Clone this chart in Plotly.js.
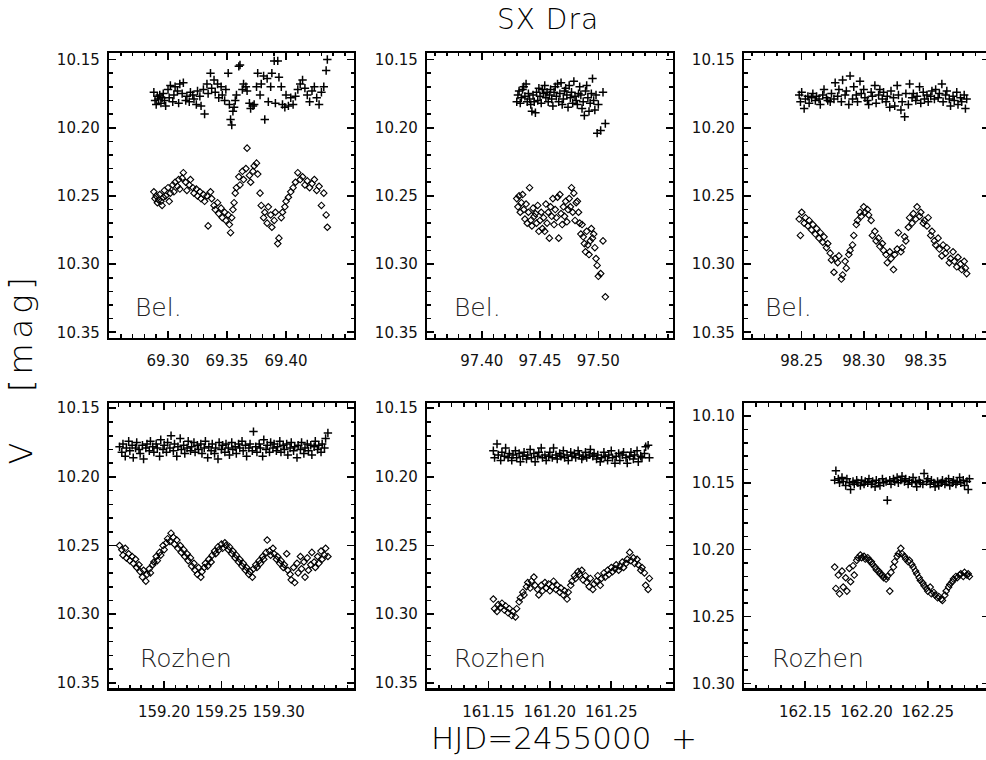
<!DOCTYPE html>
<html>
<head>
<meta charset="utf-8">
<script src="https://cdn.plot.ly/plotly-3.0.1.min.js"></script>
<style>
html,body{margin:0;padding:0;overflow:hidden;background:#fff;}
#chart{width:1000px;height:760px;}
.annotation[data-index="8"] text{letter-spacing:5px;}
.annotation[data-index="6"] text{letter-spacing:1px;}
</style>
</head>
<body>
<div id="chart"></div>
<script>
// ---------- Panel 1 : Belogradchik, HJD 2455069 ----------
const p1x = [69.288,69.289,69.290,69.291,69.292,69.293,69.294,69.295,69.296,69.297,
69.298,69.300,69.301,69.302,69.304,69.305,69.306,69.308,69.309,69.310,
69.312,69.313,69.315,69.316,69.318,69.319,69.321,69.322,69.324,69.325,
69.327,69.328,69.330,69.331,69.333,69.334,69.336,69.337,69.339,69.340,
69.342,69.343,69.345,69.346,69.348,69.349,69.351,69.352,69.353,69.354,
69.355,69.356,69.357,69.358,69.360,69.361,69.363,69.364,69.366,69.367,
69.369,69.370,69.372,69.373,69.375,69.376,69.378,69.379,69.381,69.382,
69.384,69.385,69.387,69.388,69.390,69.391,69.393,69.394,69.396,69.397,
69.399,69.400,69.402,69.404,69.406,69.408,69.410,69.412,69.414,69.416,
69.418,69.420,69.422,69.424,69.426,69.428,69.430,69.432,69.434,69.435];
const p1comp = [10.174,10.180,10.183,10.177,10.179,10.176,10.182,10.178,10.175,10.180,
10.184,10.172,10.178,10.169,10.181,10.176,10.170,10.173,10.182,10.168,
10.175,10.167,10.180,10.177,10.181,10.174,10.176,10.179,10.183,10.173,
10.177,10.184,10.172,10.190,10.168,10.175,10.160,10.171,10.165,10.174,
10.168,10.178,10.170,10.176,10.180,10.172,10.160,10.183,10.194,10.198,
10.188,10.185,10.180,10.176,10.155,10.154,10.172,10.168,10.170,10.173,
10.182,10.186,10.184,10.183,10.170,10.160,10.176,10.168,10.162,10.194,
10.164,10.181,10.170,10.160,10.151,10.182,10.151,10.163,10.170,10.183,
10.185,10.176,10.184,10.178,10.183,10.177,10.172,10.168,10.165,10.171,
10.176,10.181,10.173,10.170,10.178,10.183,10.174,10.170,10.158,10.150];
const p1var = [10.247,10.252,10.250,10.255,10.253,10.249,10.254,10.257,10.251,10.246,
10.250,10.244,10.254,10.248,10.242,10.247,10.240,10.243,10.238,10.245,
10.237,10.233,10.240,10.246,10.242,10.238,10.244,10.248,10.245,10.250,
10.247,10.252,10.249,10.254,10.250,10.272,10.247,10.252,10.257,10.260,
10.255,10.263,10.259,10.266,10.262,10.268,10.264,10.271,10.277,10.266,
10.260,10.255,10.248,10.244,10.236,10.242,10.232,10.238,10.230,10.215,
10.235,10.240,10.232,10.228,10.226,10.234,10.248,10.257,10.266,10.262,
10.270,10.258,10.264,10.273,10.268,10.262,10.285,10.281,10.266,10.262,
10.258,10.254,10.251,10.247,10.244,10.240,10.233,10.238,10.236,10.242,
10.239,10.244,10.241,10.238,10.246,10.243,10.257,10.248,10.264,10.273];

// ---------- Panel 2 : Belogradchik, HJD 2455097 ----------
const p2x = [97.430,97.431,97.432,97.433,97.434,97.435,97.436,97.437,97.438,97.439,
97.440,97.441,97.442,97.443,97.444,97.445,97.446,97.447,97.448,97.449,
97.450,97.451,97.452,97.453,97.454,97.455,97.456,97.457,97.458,97.459,
97.460,97.461,97.462,97.463,97.464,97.465,97.466,97.467,97.468,97.469,
97.470,97.471,97.472,97.473,97.474,97.475,97.476,97.477,97.478,97.479,
97.480,97.481,97.482,97.483,97.484,97.485,97.486,97.487,97.488,97.489,
97.490,97.491,97.492,97.493,97.494,97.495,97.496,97.497,97.498,97.499,
97.500,97.502,97.504,97.506];
const p2comp = [10.181,10.176,10.173,10.182,10.178,10.172,10.170,10.177,10.168,10.181,
10.175,10.179,10.183,10.188,10.176,10.181,10.189,10.174,10.180,10.171,
10.177,10.182,10.172,10.175,10.169,10.178,10.174,10.181,10.176,10.172,
10.179,10.184,10.174,10.170,10.177,10.168,10.181,10.175,10.167,10.183,
10.179,10.173,10.171,10.176,10.185,10.169,10.178,10.174,10.182,10.166,
10.177,10.180,10.183,10.175,10.170,10.176,10.186,10.181,10.191,10.173,
10.169,10.178,10.188,10.182,10.175,10.164,10.180,10.187,10.176,10.204,
10.183,10.202,10.174,10.197];
const p2var = [10.252,10.258,10.250,10.262,10.255,10.249,10.260,10.267,10.256,10.270,
10.262,10.244,10.268,10.272,10.259,10.265,10.263,10.270,10.257,10.276,
10.268,10.262,10.274,10.266,10.276,10.256,10.270,10.262,10.281,10.258,
10.265,10.252,10.271,10.260,10.266,10.251,10.281,10.249,10.263,10.271,
10.258,10.265,10.254,10.269,10.260,10.252,10.258,10.244,10.262,10.248,
10.268,10.255,10.254,10.262,10.270,10.278,10.271,10.280,10.285,10.291,
10.276,10.286,10.293,10.283,10.274,10.281,10.278,10.288,10.296,10.301,
10.309,10.307,10.283,10.324];

// ---------- Panel 3 : Belogradchik, HJD 2455098 ----------
const p3x = [98.248,98.249,98.250,98.252,98.253,98.255,98.256,98.258,98.259,98.261,
98.262,98.264,98.265,98.267,98.268,98.270,98.271,98.273,98.274,98.276,
98.277,98.279,98.280,98.282,98.283,98.285,98.286,98.288,98.289,98.291,
98.292,98.294,98.295,98.297,98.298,98.300,98.301,98.303,98.304,98.306,
98.307,98.309,98.310,98.312,98.313,98.315,98.316,98.318,98.319,98.321,
98.322,98.324,98.325,98.327,98.328,98.330,98.331,98.333,98.334,98.336,
98.337,98.339,98.340,98.342,98.343,98.345,98.346,98.348,98.349,98.351,
98.352,98.354,98.355,98.357,98.358,98.360,98.361,98.363,98.364,98.366,
98.367,98.369,98.370,98.372,98.373,98.375,98.376,98.378,98.379,98.381,
98.382,98.383];
const p3comp = [10.176,10.181,10.174,10.186,10.179,10.177,10.182,10.178,10.175,10.180,
10.177,10.179,10.183,10.176,10.172,10.178,10.180,10.181,10.175,10.179,
10.167,10.177,10.172,10.181,10.165,10.176,10.173,10.183,10.162,10.179,
10.170,10.176,10.181,10.166,10.175,10.172,10.178,10.180,10.183,10.174,
10.177,10.169,10.182,10.176,10.172,10.179,10.174,10.181,10.177,10.185,
10.173,10.178,10.184,10.169,10.176,10.187,10.181,10.192,10.175,10.183,
10.168,10.178,10.175,10.180,10.177,10.170,10.182,10.174,10.179,10.176,
10.181,10.177,10.173,10.179,10.172,10.178,10.175,10.168,10.181,10.176,
10.173,10.179,10.184,10.177,10.180,10.174,10.183,10.178,10.181,10.176,
10.186,10.179];
const p3var = [10.267,10.279,10.262,10.270,10.266,10.272,10.268,10.275,10.271,10.278,
10.274,10.281,10.277,10.284,10.280,10.288,10.285,10.292,10.297,10.306,
10.296,10.299,10.294,10.311,10.308,10.298,10.303,10.293,10.290,10.286,
10.279,10.271,10.268,10.262,10.265,10.258,10.262,10.260,10.264,10.268,
10.279,10.276,10.283,10.281,10.287,10.285,10.290,10.293,10.299,10.291,
10.296,10.304,10.293,10.289,10.277,10.291,10.288,10.280,10.283,10.273,
10.266,10.270,10.263,10.267,10.258,10.265,10.262,10.270,10.268,10.272,
10.266,10.279,10.276,10.283,10.286,10.281,10.289,10.294,10.286,10.292,
10.288,10.299,10.296,10.291,10.298,10.302,10.295,10.300,10.304,10.298,
10.303,10.307];

// ---------- Panel 4 : Rozhen, HJD 2455159 ----------
const p4x = [159.161,159.163,159.164,159.166,159.167,159.169,159.170,159.172,159.173,159.175,
159.176,159.178,159.179,159.181,159.182,159.184,159.185,159.187,159.188,159.190,
159.191,159.193,159.194,159.196,159.197,159.199,159.200,159.202,159.203,159.205,
159.206,159.208,159.209,159.211,159.212,159.214,159.215,159.217,159.218,159.220,
159.221,159.223,159.224,159.226,159.227,159.229,159.230,159.232,159.233,159.235,
159.236,159.238,159.239,159.241,159.242,159.244,159.245,159.247,159.248,159.250,
159.251,159.253,159.254,159.256,159.257,159.259,159.260,159.262,159.263,159.265,
159.266,159.268,159.269,159.271,159.272,159.274,159.275,159.277,159.278,159.280,
159.281,159.283,159.284,159.286,159.287,159.289,159.290,159.292,159.293,159.295,
159.296,159.298,159.299,159.301,159.302,159.304,159.305,159.307,159.308,159.310,
159.311,159.313,159.314,159.316,159.317,159.319,159.320,159.322,159.323,159.325,
159.326,159.328,159.329,159.331,159.332,159.334,159.335,159.337,159.338,159.340,
159.341,159.343];
const p4comp = [10.178,10.182,10.176,10.185,10.179,10.174,10.181,10.177,10.186,10.179,
10.175,10.180,10.183,10.177,10.187,10.179,10.176,10.181,10.174,10.178,
10.182,10.176,10.179,10.185,10.173,10.180,10.177,10.182,10.175,10.179,
10.170,10.181,10.176,10.185,10.178,10.172,10.180,10.177,10.183,10.179,
10.174,10.181,10.178,10.175,10.182,10.177,10.180,10.176,10.183,10.179,
10.174,10.186,10.178,10.181,10.176,10.183,10.179,10.187,10.175,10.180,
10.177,10.182,10.176,10.179,10.184,10.175,10.180,10.178,10.183,10.176,
10.179,10.174,10.181,10.177,10.185,10.179,10.176,10.181,10.167,10.178,
10.182,10.176,10.179,10.185,10.173,10.180,10.177,10.182,10.175,10.179,
10.176,10.181,10.178,10.174,10.182,10.177,10.180,10.176,10.184,10.179,
10.175,10.181,10.178,10.186,10.177,10.180,10.175,10.183,10.179,10.176,
10.181,10.177,10.184,10.178,10.174,10.180,10.177,10.182,10.176,10.179,
10.172,10.168];
const p4var = [10.250,10.253,10.257,10.252,10.259,10.256,10.261,10.258,10.263,10.260,
10.266,10.264,10.269,10.273,10.268,10.276,10.271,10.267,10.270,10.264,
10.262,10.258,10.261,10.255,10.257,10.250,10.253,10.248,10.245,10.247,
10.241,10.244,10.249,10.246,10.252,10.250,10.255,10.253,10.258,10.256,
10.261,10.259,10.265,10.263,10.268,10.271,10.266,10.273,10.269,10.266,
10.263,10.265,10.260,10.262,10.257,10.254,10.256,10.251,10.253,10.249,
10.252,10.248,10.250,10.253,10.251,10.256,10.254,10.259,10.257,10.262,
10.260,10.265,10.263,10.268,10.266,10.271,10.269,10.273,10.267,10.264,
10.266,10.261,10.263,10.258,10.260,10.255,10.246,10.254,10.257,10.252,
10.256,10.260,10.258,10.263,10.261,10.266,10.264,10.256,10.268,10.271,
10.275,10.266,10.277,10.263,10.270,10.258,10.267,10.262,10.273,10.259,
10.268,10.264,10.255,10.262,10.266,10.258,10.263,10.254,10.260,10.257,
10.252,10.258];

// ---------- Panel 5 : Rozhen, HJD 2455161 ----------
const p5x = [161.154,161.155,161.157,161.158,161.160,161.161,161.163,161.164,161.166,161.167,
161.169,161.170,161.172,161.173,161.175,161.176,161.178,161.179,161.181,161.182,
161.184,161.185,161.187,161.188,161.190,161.191,161.193,161.194,161.196,161.197,
161.199,161.200,161.202,161.203,161.205,161.206,161.208,161.209,161.211,161.212,
161.214,161.215,161.217,161.218,161.220,161.221,161.223,161.224,161.226,161.227,
161.229,161.230,161.232,161.233,161.235,161.236,161.238,161.239,161.241,161.242,
161.244,161.245,161.247,161.248,161.250,161.251,161.253,161.254,161.256,161.257,
161.259,161.260,161.262,161.263,161.265,161.266,161.268,161.269,161.271,161.272,
161.274,161.275,161.277,161.278,161.280,161.281];
const p5comp = [10.181,10.186,10.176,10.184,10.188,10.182,10.185,10.179,10.186,10.183,
10.188,10.184,10.181,10.186,10.183,10.189,10.185,10.182,10.187,10.184,
10.180,10.186,10.183,10.189,10.185,10.182,10.179,10.186,10.184,10.188,
10.185,10.182,10.186,10.179,10.184,10.187,10.183,10.185,10.181,10.186,
10.184,10.188,10.182,10.185,10.183,10.186,10.181,10.184,10.187,10.185,
10.182,10.186,10.184,10.180,10.185,10.183,10.187,10.184,10.189,10.186,
10.182,10.185,10.188,10.184,10.181,10.186,10.190,10.185,10.183,10.188,
10.184,10.182,10.186,10.190,10.185,10.182,10.187,10.184,10.181,10.189,
10.185,10.186,10.183,10.178,10.177,10.186];
const p5var = [10.289,10.296,10.298,10.293,10.295,10.292,10.297,10.294,10.299,10.296,
10.301,10.298,10.302,10.296,10.291,10.288,10.284,10.286,10.280,10.277,
10.281,10.276,10.273,10.279,10.282,10.286,10.279,10.283,10.277,10.281,
10.278,10.283,10.280,10.276,10.282,10.279,10.284,10.281,10.286,10.283,
10.289,10.284,10.279,10.276,10.272,10.274,10.269,10.271,10.268,10.275,
10.272,10.277,10.280,10.274,10.282,10.278,10.276,10.272,10.279,10.274,
10.270,10.273,10.268,10.271,10.266,10.269,10.267,10.264,10.268,10.265,
10.262,10.266,10.263,10.260,10.255,10.261,10.259,10.263,10.260,10.264,
10.268,10.266,10.270,10.279,10.282,10.274];

// ---------- Panel 6 : Rozhen, HJD 2455162 ----------
const p6x = [162.174,162.175,162.177,162.178,162.180,162.181,162.183,162.184,162.186,162.187,
162.189,162.190,162.192,162.193,162.195,162.196,162.198,162.199,162.201,162.202,
162.204,162.205,162.207,162.208,162.210,162.211,162.213,162.214,162.216,162.217,
162.219,162.220,162.222,162.223,162.225,162.226,162.228,162.229,162.231,162.232,
162.234,162.235,162.237,162.238,162.240,162.241,162.243,162.244,162.246,162.247,
162.249,162.250,162.252,162.253,162.255,162.256,162.258,162.259,162.261,162.262,
162.264,162.265,162.267,162.268,162.270,162.271,162.273,162.274,162.276,162.277,
162.279,162.280,162.282,162.283,162.284];
const p6comp = [10.148,10.141,10.147,10.150,10.146,10.149,10.152,10.147,10.150,10.155,
10.149,10.151,10.148,10.150,10.152,10.148,10.151,10.149,10.150,10.147,
10.151,10.149,10.153,10.148,10.150,10.152,10.147,10.150,10.149,10.163,
10.148,10.151,10.147,10.149,10.146,10.150,10.148,10.145,10.149,10.147,
10.151,10.148,10.150,10.146,10.149,10.153,10.148,10.150,10.151,10.143,
10.149,10.147,10.151,10.148,10.150,10.153,10.149,10.152,10.150,10.148,
10.151,10.149,10.147,10.152,10.150,10.148,10.151,10.149,10.146,10.150,
10.148,10.152,10.149,10.155,10.147];
const p6var = [10.213,10.229,10.219,10.233,10.216,10.228,10.221,10.231,10.214,10.224,
10.212,10.219,10.208,10.206,10.204,10.206,10.205,10.207,10.206,10.208,
10.209,10.211,10.213,10.215,10.216,10.218,10.219,10.221,10.222,10.220,
10.231,10.217,10.213,10.209,10.205,10.203,10.199,10.203,10.205,10.207,
10.209,10.208,10.211,10.213,10.216,10.218,10.221,10.223,10.225,10.227,
10.229,10.231,10.228,10.233,10.232,10.234,10.236,10.235,10.237,10.238,
10.234,10.231,10.228,10.226,10.224,10.222,10.220,10.221,10.219,10.218,
10.220,10.217,10.219,10.218,10.220];

// ---------- axis settings ----------
const xRanges = [[69.25,69.4576],[97.353,97.5638],[98.2035,98.401],
                 [159.1518,159.3658],[161.10,161.30],[162.10,162.30]];
const xTicks = [[69.30,69.35,69.40],[97.40,97.45,97.50],[98.25,98.30,98.35],
                [159.20,159.25,159.30],[161.15,161.20,161.25],[162.15,162.20,162.25]];
const yRanges = [[10.354,10.145],[10.354,10.145],[10.354,10.145],
                 [10.354,10.1464],[10.354,10.1464],[10.3037,10.0905]];
const siteLabels = ['Bel.','Bel.','Bel.','Rozhen','Rozhen','Rozhen'];
const mainTitle = 'SX Dra';
const xTitle = 'HJD=2455000  +';
const yTitle = 'V   [mag]';

const xs = [p1x,p2x,p3x,p4x,p5x,p6x];
const comps = [p1comp,p2comp,p3comp,p4comp,p5comp,p6comp];
const vars = [p1var,p2var,p3var,p4var,p5var,p6var];

const W = 1000, H = 760;
// panel pixel boxes
const colPx = [[109,354],[427,672.7],[744,989]];
const rowPx = [[52.7,337.7],[403.3,688.3]];
const labelDx = [24,25,19,29,25,26];

const FONT = 'DejaVu Sans, sans-serif';
const data = [];
const layout = {
  width: W, height: H,
  margin: {l:0,r:0,t:0,b:0},
  paper_bgcolor: '#fff', plot_bgcolor: '#fff',
  showlegend: false,
  font: {family: FONT, color: '#000', size: 16},
  annotations: []
};

for (let i = 0; i < 6; i++) {
  const n = i === 0 ? '' : String(i + 1);
  const col = i % 3, row = Math.floor(i / 3);
  const cp = colPx[col], rp = rowPx[row];
  data.push({
    type: 'scatter', mode: 'markers', x: xs[i], y: comps[i],
    xaxis: 'x' + n, yaxis: 'y' + n, hoverinfo: 'skip',
    marker: {symbol: 'cross-thin-open', size: 6, color: '#000', line: {color: '#000', width: 1.5}}
  });
  data.push({
    type: 'scatter', mode: 'markers', x: xs[i], y: vars[i],
    xaxis: 'x' + n, yaxis: 'y' + n, hoverinfo: 'skip',
    marker: {symbol: 'diamond-open', size: 5, color: '#000', line: {color: '#000', width: 1.1}}
  });
  const common = {
    showline: true, linecolor: '#000', linewidth: 2.2, mirror: 'allticks',
    ticks: 'inside', ticklen: 7, tickwidth: 1.6, tickcolor: '#000',
    showgrid: false, zeroline: false, fixedrange: true,
    tickformat: '.2f', tickangle: 0,
    tickfont: {family: FONT, size: 15, color: '#111'}
  };
  layout['xaxis' + n] = Object.assign({}, common, {
    domain: [cp[0] / W, cp[1] / W],
    anchor: 'y' + n,
    range: xRanges[i],
    tickmode: 'array', tickvals: xTicks[i],
    ticklabelstandoff: 8,
    minor: {dtick: 0.01, tick0: 69.0, ticks: 'inside', ticklen: 3.5, tickwidth: 1.6, tickcolor: '#000', showgrid: false}
  });
  layout['yaxis' + n] = Object.assign({}, common, {
    domain: [1 - rp[1] / H, 1 - rp[0] / H],
    anchor: 'x' + n,
    range: yRanges[i],
    dtick: 0.05, tick0: 10.0,
    ticklabelstandoff: 4,
    minor: {dtick: 0.01, tick0: 10.0, ticks: 'inside', ticklen: 3.5, tickwidth: 1.6, tickcolor: '#000', showgrid: false}
  });
  layout.annotations.push({
    text: siteLabels[i], xref: 'x' + n + ' domain', yref: 'y' + n + ' domain',
    x: labelDx[i] / (cp[1] - cp[0]), y: 30 / (rp[1] - rp[0]),
    xanchor: 'left', yanchor: 'middle', showarrow: false,
    font: {family: FONT, size: 25, color: '#222', weight: 200}
  });
}

layout.annotations.push({
  text: mainTitle, xref: 'paper', yref: 'paper', x: 548 / W, y: 1 - 19 / H,
  xanchor: 'center', yanchor: 'middle', showarrow: false,
  font: {family: FONT, size: 28, color: '#000', weight: 200}
});
layout.annotations.push({
  text: xTitle, xref: 'paper', yref: 'paper', x: 564 / W, y: 1 - 738 / H,
  xanchor: 'center', yanchor: 'middle', showarrow: false,
  font: {family: FONT, size: 31, color: '#000', weight: 200}
});
layout.annotations.push({
  text: yTitle, xref: 'paper', yref: 'paper', x: 21 / W, y: 1 - 369 / H,
  xanchor: 'center', yanchor: 'middle', showarrow: false, textangle: -90,
  font: {family: FONT, size: 32, color: '#000', weight: 200}
});

Plotly.newPlot('chart', data, layout, {staticPlot: true, displayModeBar: false});
</script>
</body>
</html>
